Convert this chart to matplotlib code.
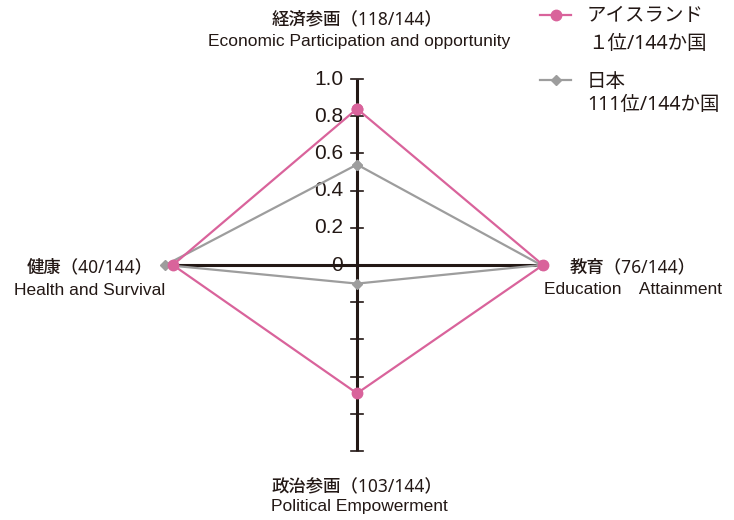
import matplotlib
matplotlib.use("Agg")
from matplotlib import pyplot as plt

plt.rcParams['font.family'] = ['Noto Sans', 'Noto Sans CJK JP']

# axis order: economic (top), education (right), political (bottom), health (left)
iceland = [0.84, 1.0, 0.69, 0.99]
japan = [0.54, 0.99, 0.10, 1.03]
tick_values = [0.2, 0.4, 0.6, 0.8, 1.0]
tick_labels = ["0", "0.2", "0.4", "0.6", "0.8", "1.0"]

pink = "#d9639b"
gray = "#9d9d9d"
ink = "#231815"


def to_xy(vals):
    e, ed, p, h = vals
    xs = [0, ed, 0, -h, 0]
    ys = [e, 0, -p, 0, e]
    return xs, ys


fig = plt.figure(figsize=(7.34, 5.20), dpi=100)
ax = fig.add_axes([0, 0, 1, 1])
scale = 186.0
ax.set_xlim(-357 / scale, (734 - 357) / scale)
ax.set_ylim(-(520 - 265) / scale, 265 / scale)
ax.axis('off')

# cross axes
ax.plot([0, 0], [-1.0, 1.0], color=ink, lw=2.2, zorder=2, solid_capstyle='butt')
ax.plot([-1.0, 1.0], [0, 0], color=ink, lw=2.2, zorder=2, solid_capstyle='butt')
tw = 0.03
for t in tick_values:
    ax.plot([-tw, tw], [t, t], color=ink, lw=1.2, zorder=2)
    ax.plot([-tw, tw], [-t, -t], color=ink, lw=1.2, zorder=2)

for t, lab in zip([0] + tick_values, tick_labels):
    ax.text(-0.075, t, lab, ha='right', va='center', fontsize=15,
            family='Liberation Sans', color=ink, zorder=3)

xs, ys = to_xy(japan)
ax.plot(xs, ys, color=gray, lw=1.6, marker='D', ms=5, zorder=4)
xs, ys = to_xy(iceland)
ax.plot(xs, ys, color=pink, lw=1.6, marker='o', ms=7.5, zorder=5)


def px(x, y):
    return (x - 357) / scale, (265 - y) / scale


# category labels
jp = dict(va='center', fontsize=12.5, color=ink, weight='medium')
en = dict(va='center', fontsize=12.5, color=ink, family='Liberation Sans')
ax.text(*px(357, 19), "経済参画（118/144）", ha='center', **jp)
ax.text(*px(359, 41), "Economic Participation and opportunity", ha='center', **en)
ax.text(*px(27, 267), "健康（40/144）", ha='left', **jp)
ax.text(*px(14, 290), "Health and Survival", ha='left', **en)
ax.text(*px(570, 267), "教育（76/144）", ha='left', **jp)
ax.text(*px(544, 289), "Education　Attainment", ha='left',
        **dict(en, family=['Liberation Sans', 'Noto Sans CJK JP']))
ax.text(*px(357, 487), "政治参画（103/144）", ha='center', **jp)
ax.text(*px(359, 507), "Political Empowerment", ha='center', **en)

# legend
lg = dict(ha='left', va='center', fontsize=14, color=ink)
lx0, lx1 = px(540, 0)[0], px(571, 0)[0]
ly = px(0, 15)[1]
ax.plot([lx0, lx1], [ly, ly], color=pink, lw=1.6, clip_on=False)
ax.plot([(lx0 + lx1) / 2], [ly], color=pink, marker='o', ms=7.5, clip_on=False)
ax.text(*px(587, 16), "アイスランド", **lg)
ax.text(*px(588, 44), "１位/144か国", **lg)
ly = px(0, 80)[1]
ax.plot([lx0, lx1], [ly, ly], color=gray, lw=1.6, clip_on=False)
ax.plot([(lx0 + lx1) / 2], [ly], color=gray, marker='D', ms=5, clip_on=False)
ax.text(*px(587, 82), "日本", **lg)
ax.text(*px(587, 105), "111位/144か国", **lg)

fig.savefig("out.png", dpi=100)
